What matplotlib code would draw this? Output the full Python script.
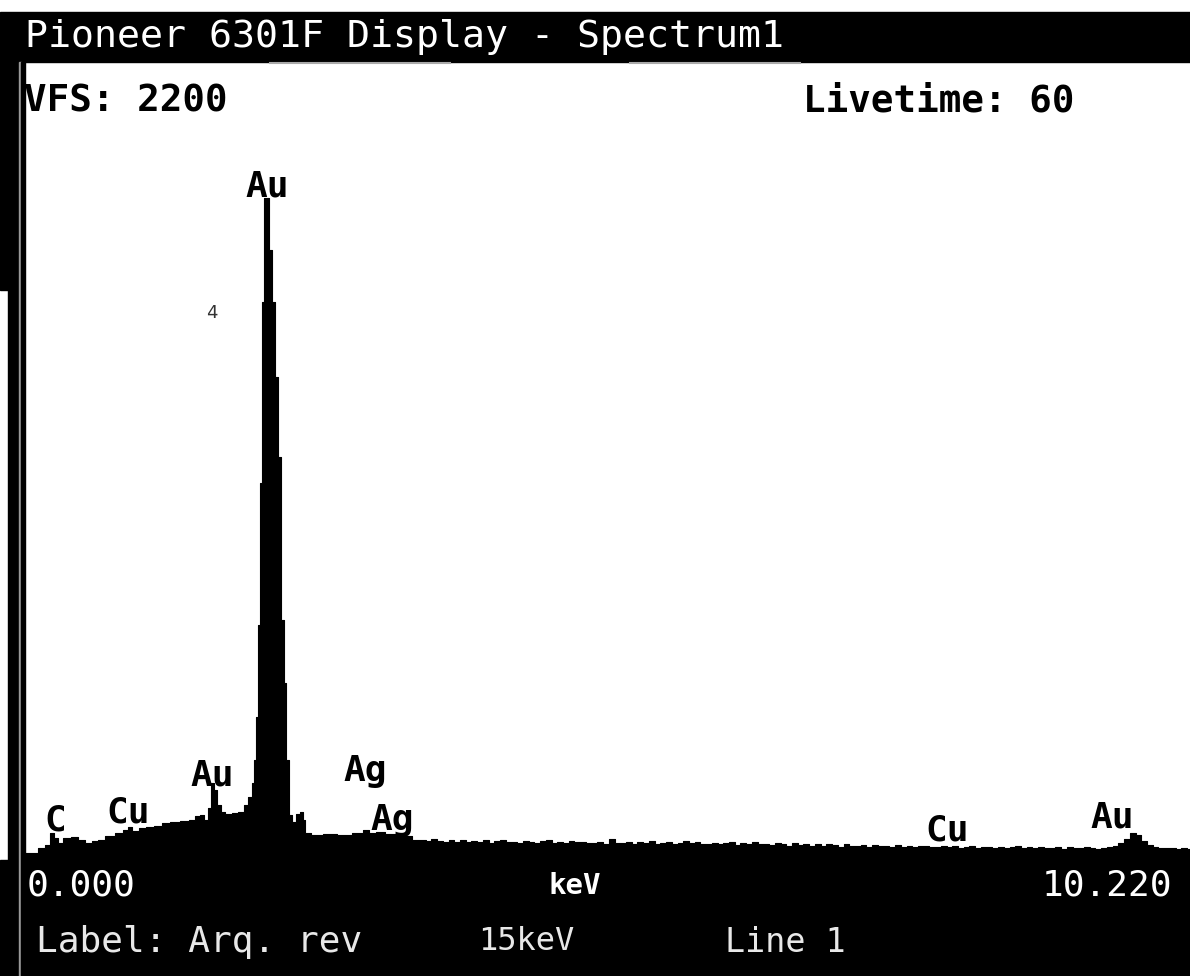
import numpy as np
import matplotlib
matplotlib.use('Agg')
import matplotlib.pyplot as plt
from matplotlib.patches import Rectangle

# spectrum, low energy part read point by point (keV, counts)
low_kev = [0.00, 0.03, 0.11, 0.17, 0.23, 0.26, 0.30, 0.33, 0.39, 0.46, 0.52, 0.58,
           0.64, 0.68, 0.77, 0.86, 0.91, 0.94, 0.99, 1.05, 1.12, 1.19, 1.25, 1.34,
           1.42, 1.49, 1.54, 1.57, 1.61, 1.64, 1.67, 1.69, 1.72, 1.75, 1.80, 1.86,
           1.92, 1.96, 1.99, 2.02, 2.03, 2.05, 2.07, 2.09, 2.10, 2.12, 2.15, 2.17,
           2.19, 2.23, 2.25, 2.28, 2.30, 2.32, 2.34, 2.38, 2.41, 2.44, 2.46, 2.49,
           2.56, 2.69, 2.82, 2.95, 3.00, 3.06, 3.13, 3.21, 3.30, 3.39, 3.43]
low_counts = [14, 19, 19, 33, 42, 75, 61, 47, 61, 64, 55, 47,
              53, 55, 66, 75, 83, 91, 80, 89, 91, 94, 102, 105,
              108, 111, 122, 125, 111, 144, 213, 194, 152, 133, 127, 130,
              133, 152, 174, 213, 277, 396, 650, 1043, 1544, 1832, 1832, 1688,
              1544, 1336, 1115, 664, 490, 277, 125, 105, 127, 133, 111, 75,
              69, 72, 69, 75, 83, 75, 77, 72, 72, 66, 55]

# continuum from 3.50 keV to 10.20 keV, one value every 0.05 keV
cont_start, cont_step = 3.50, 0.05
cont_counts = [55, 52, 57, 53, 50, 54, 51, 56, 49, 52,
               50, 54, 48, 52, 55, 49, 51, 47, 53, 50,
               48, 52, 56, 47, 50, 46, 53, 49, 51, 48,
               47, 51, 45, 58, 48, 46, 50, 44, 49, 47,
               52, 45, 48, 50, 44, 47, 53, 46, 49, 45,
               44, 48, 43, 47, 51, 42, 46, 44, 49, 43,
               45, 41, 47, 43, 40, 46, 42, 44, 39, 43,
               39, 43, 41, 37, 44, 40, 38, 42, 36, 41,
               38, 40, 36, 42, 37, 39, 35, 40, 38, 36,
               36, 39, 35, 38, 34, 37, 39, 33, 36, 35,
               34, 37, 33, 36, 38, 32, 35, 33, 36, 34,
               33, 35, 31, 36, 34, 32, 35, 33, 31, 34,
               35, 38, 46, 58, 74, 68, 52, 42, 36, 33,
               32, 34, 30, 33, 31]

peak_labels = ['C', 'Cu', 'Au', 'Au', 'Ag', 'Ag', 'Cu', 'Au']
label_kev = [0.29, 0.93, 1.66, 2.14, 3.00, 3.23, 8.08, 9.52]
label_counts = [83, 105, 207, 1835, 219, 83, 53, 89]

vfs = 2200
livetime = 60
kev_min, kev_max = 0.000, 10.220

cont_kev = cont_start + cont_step * np.arange(len(cont_counts))
energy = np.concatenate([low_kev, cont_kev])
counts = np.concatenate([low_counts, cont_counts])

W, H = 1190, 976
fig = plt.figure(figsize=(W / 100, H / 100), dpi=100, facecolor='white')

# screen frame, drawn in pixel coords
bg = fig.add_axes([0, 0, 1, 1])
bg.set_xlim(0, W)
bg.set_ylim(H, 0)
bg.axis('off')
bg.add_patch(Rectangle((0, 12), W, 50, color='black'))      # title bar
bg.add_patch(Rectangle((0, 860), W, H - 860, color='black'))  # bottom panel
bg.add_patch(Rectangle((0, 62), 8, 228, color='black'))
bg.add_patch(Rectangle((8, 62), 11, H - 62, color='black'))
bg.add_patch(Rectangle((19, 62), 2, H - 62, color='#9a9a9a'))
bg.add_patch(Rectangle((21, 62), 4, H - 62, color='black'))
bg.plot([270, 450], [63, 63], color='#aaaaaa', lw=1.5)
bg.plot([630, 800], [63, 63], color='#aaaaaa', lw=1.5)

mono = 'DejaVu Sans Mono'
bg.text(25, 37, 'Pioneer 6301F Display - Spectrum1', color='white',
        fontsize=27.5, family=mono, va='center', ha='left')
bg.text(24, 101, 'VFS: %d' % vfs, color='black', fontsize=27,
        family=mono, weight='bold', va='center', ha='left')
bg.text(803, 101, 'Livetime: %d' % livetime, color='black', fontsize=27,
        family=mono, weight='bold', va='center', ha='left')
bg.text(27, 886, '%.3f' % kev_min, color='white', fontsize=26,
        family=mono, va='center', ha='left')
bg.text(575, 886, 'keV', color='white', fontsize=21, family=mono,
        weight='bold', va='center', ha='center')
bg.text(1172, 886, '%.3f' % kev_max, color='white', fontsize=26,
        family=mono, va='center', ha='right')
bg.text(36, 942, 'Label: Arq. rev', color='#e8e8e8', fontsize=26,
        family=mono, va='center', ha='left')
bg.text(478, 942, '15keV', color='#e8e8e8', fontsize=23,
        family=mono, va='center', ha='left')
bg.text(725, 942, 'Line 1', color='#e8e8e8', fontsize=24,
        family=mono, va='center', ha='left')

# spectrum axes: 0 keV at x=22 px, 114.5 px per keV, zero counts at y=860
x0_px, px_per_kev = 22, 114.5
left_px, right_px, top_px, bottom_px = 25, W, 65, 860
ax = fig.add_axes([left_px / W, (H - bottom_px) / H,
                   (right_px - left_px) / W, (bottom_px - top_px) / H])
ax.set_xlim((left_px - x0_px) / px_per_kev, (right_px - x0_px) / px_per_kev)
ax.set_ylim(0, vfs)
ax.set_facecolor('white')
ax.axis('off')

ax.fill_between(energy, 0, counts, step='mid', color='black', lw=0.8,
                edgecolor='black')

for lab, e, c in zip(peak_labels, label_kev, label_counts):
    ax.text(e, c, lab, fontsize=26, family=mono, weight='bold',
            ha='center', va='baseline', color='black')

ax.text(1.66, 1514, '4', fontsize=13, color='#333333', ha='center', va='center')

fig.savefig('out.png', dpi=100, facecolor='white')
